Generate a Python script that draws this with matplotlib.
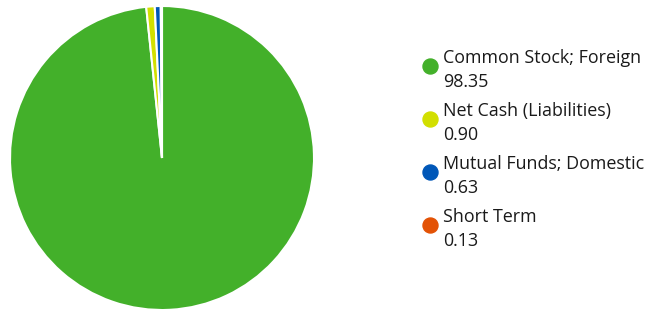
import matplotlib
matplotlib.use("Agg")
import matplotlib.pyplot as plt

labels = ["Common Stock; Foreign", "Net Cash (Liabilities)", "Mutual Funds; Domestic", "Short Term"]
values = [98.35, 0.90, 0.63, 0.13]
colors = ["#43B02A", "#D2DF00", "#0057B8", "#E35205"]

W, H = 657, 310
fig = plt.figure(figsize=(W / 100, H / 100), dpi=100)
plt.rcParams['font.family'] = ['Open Sans', 'DejaVu Sans']

# pie
cx, cy, r = 162, 158, 152
ax = fig.add_axes([(cx - r) / W, (H - cy - r) / H, 2 * r / W, 2 * r / H])
ax.pie(values, colors=colors, startangle=90, counterclock=False, radius=1,
       wedgeprops=dict(edgecolor="white", linewidth=1.5))
ax.set_xlim(-1, 1)
ax.set_ylim(-1, 1)
ax.set_aspect("equal")
ax.axis("off")

# legend
y0 = 66
step = 53
for i, (lab, val, col) in enumerate(zip(labels, values, colors)):
    y = y0 + i * step
    fig.lines.append(plt.Line2D([430 / W], [1 - y / H], marker="o", markersize=10.8,
                                color=col, linestyle="none", transform=fig.transFigure))
    fig.text(443 / W, 1 - (y - 2.7) / H, lab, fontsize=12.9, color="#1a1a1a", va="baseline")
    fig.text(443 / W, 1 - (y + 20.7) / H, f"{val:.2f}", fontsize=12.9, color="#1a1a1a", va="baseline")

fig.savefig("out.png", dpi=100)
